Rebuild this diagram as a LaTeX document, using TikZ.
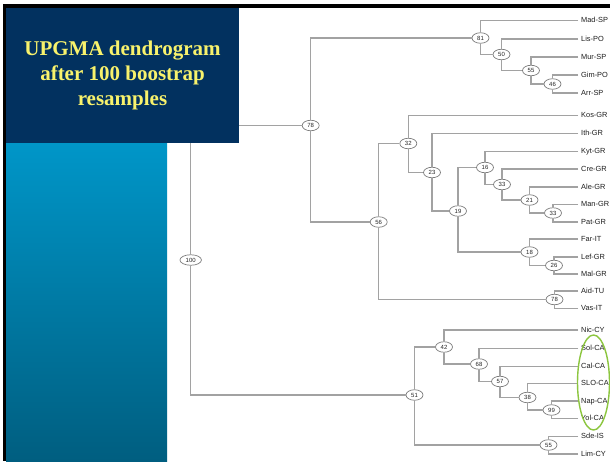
\documentclass[tikz,border=0pt]{standalone}
\usepackage{fontspec}
\setmainfont{Liberation Serif}
\newfontfamily\tipfont{Liberation Sans}
\usetikzlibrary{shapes.geometric}
\definecolor{navy}{HTML}{02315F}
\definecolor{stripTop}{HTML}{0096C8}
\definecolor{stripBot}{HTML}{005E80}
\definecolor{titleYel}{HTML}{F8F26C}
\definecolor{branch}{HTML}{A2A2A2}
\definecolor{ellBorder}{HTML}{7C7C7C}
\definecolor{tipText}{HTML}{1E1E1E}
\definecolor{hiGreen}{HTML}{8CC63F}
\tikzset{
  br/.style={draw=branch, line width=1.3pt},
  bs/.style={ellipse, draw=ellBorder, line width=0.7pt, fill=white, inner xsep=2.6pt, inner ysep=1pt,
    minimum width=17pt, minimum height=10.5pt, font=\tipfont\fontsize{6}{6}\selectfont, text=black!85},
  tip/.style={anchor=west, inner xsep=3pt, inner ysep=0pt, text height=5.6pt, text depth=1.6pt,
    font=\tipfont\fontsize{7.4}{8}\selectfont, text=tipText}
}
\begin{document}
\begin{tikzpicture}[x=1pt,y=-1pt]
\useasboundingbox (0,0) rectangle (610,461);
\fill[white] (0,0) rectangle (610,461);
% leaves
\node[tip] (lMad) at (578,20.5) {Mad-SP};
\node[tip] (lLis) at (578,39) {Lis-PO};
\node[tip] (lMur) at (578,57) {Mur-SP};
\node[tip] (lGim) at (578,75) {Gim-PO};
\node[tip] (lArr) at (578,93) {Arr-SP};
\node[tip] (lKos) at (578,115.5) {Kos-GR};
\node[tip] (lIth) at (578,133.5) {Ith-GR};
\node[tip] (lKyt) at (578,151.5) {Kyt-GR};
\node[tip] (lCre) at (578,169) {Cre-GR};
\node[tip] (lAle) at (578,187) {Ale-GR};
\node[tip] (lMan) at (578,204.5) {Man-GR};
\node[tip] (lPat) at (578,222) {Pat-GR};
\node[tip] (lFar) at (578,239) {Far-IT};
\node[tip] (lLef) at (578,257) {Lef-GR};
\node[tip] (lMal) at (578,274) {Mal-GR};
\node[tip] (lAid) at (578,291) {Aid-TU};
\node[tip] (lVas) at (578,308.5) {Vas-IT};
\node[tip] (lNic) at (578,330) {Nic-CY};
\node[tip] (lSol) at (578,348.5) {Sol-CA};
\node[tip] (lCal) at (578,366.5) {Cal-CA};
\node[tip] (lSLO) at (578,383.5) {SLO-CA};
\node[tip] (lNap) at (578,401) {Nap-CA};
\node[tip] (lYol) at (578,418.5) {Yol-CA};
\node[tip] (lSde) at (578,436.5) {Sde-IS};
\node[tip] (lLim) at (578,454) {Lim-CY};
% internal nodes
\node[bs] (n100) at (190.7,260) {100};
\node[bs] (n78)  at (310.7,125.5) {78};
\node[bs] (n81)  at (480.5,38) {81};
\node[bs] (n50)  at (501.5,54.5) {50};
\node[bs] (n55a) at (531,70.5) {55};
\node[bs] (n46)  at (552.5,84) {46};
\node[bs] (n56)  at (378.7,222) {56};
\node[bs] (n32)  at (408.3,143.5) {32};
\node[bs] (n23)  at (432,172.5) {23};
\node[bs] (n19)  at (458,211) {19};
\node[bs] (n16)  at (485,167.5) {16};
\node[bs] (n33a) at (502,184.5) {33};
\node[bs] (n21)  at (529.5,200) {21};
\node[bs] (n33b) at (553,213) {33};
\node[bs] (n18)  at (529.5,252) {18};
\node[bs] (n26)  at (554,265.5) {26};
\node[bs] (n78b) at (554.5,299.5) {78};
\node[bs] (n51)  at (414.5,395) {51};
\node[bs] (n42)  at (444,347) {42};
\node[bs] (n68)  at (479,364) {68};
\node[bs] (n57)  at (500,381.5) {57};
\node[bs] (n38)  at (527.5,397.5) {38};
\node[bs] (n99)  at (551.5,410) {99};
\node[bs] (n55b) at (548.5,445) {55};
% branches
\foreach \c/\p in {lMad/n81, n50/n81, lLis/n50, n55a/n50, lMur/n55a, n46/n55a, lGim/n46, lArr/n46,
  n81/n78, n56/n78, n32/n56, n78b/n56, lKos/n32, n23/n32, lIth/n23, n19/n23, n16/n19, n18/n19,
  lKyt/n16, n33a/n16, lCre/n33a, n21/n33a, lAle/n21, n33b/n21, lMan/n33b, lPat/n33b,
  lFar/n18, n26/n18, lLef/n26, lMal/n26, lAid/n78b, lVas/n78b,
  n78/n100, n51/n100, n42/n51, n55b/n51, lNic/n42, n68/n42, lSol/n68, n57/n68,
  lCal/n57, n38/n57, lSLO/n38, n99/n38, lNap/n99, lYol/n99, lSde/n55b, lLim/n55b}
  \draw[br] (\c) -| (\p);
% highlight ellipse
\node[ellipse, draw=hiGreen, line width=1.4pt, minimum width=32pt, minimum height=95pt, inner sep=0pt] (hl) at (593.5,382.5) {};
% slide decorations
\shade[top color=stripTop, bottom color=stripBot] (6,143) rectangle (167,461);
\fill[navy] (6,8) rectangle (239,143);
\fill[black] (2.5,4) rectangle (610,8);
\fill[black] (2.5,4) rectangle (6,461);
\node[text=titleYel, font=\bfseries\fontsize{21}{25}\selectfont, align=center] (title) at (122.5,75.5)
  {UPGMA dendrogram\\after 100 boostrap\\resamples};
\end{tikzpicture}
\end{document}
